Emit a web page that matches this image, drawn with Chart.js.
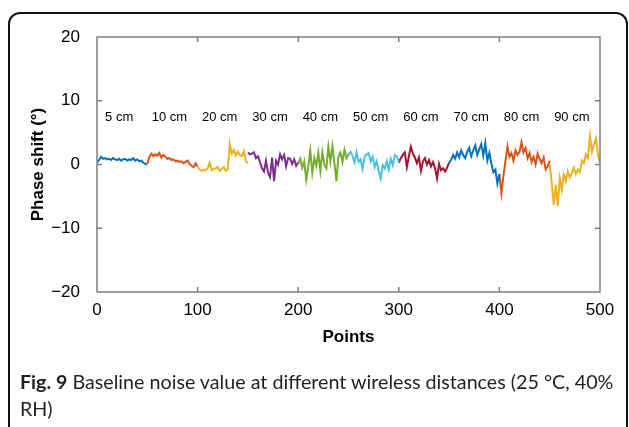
<!DOCTYPE html>
<html>
<head>
<meta charset="utf-8">
<script src="https://cdn.jsdelivr.net/npm/chart.js@4.4.1/dist/chart.umd.min.js"></script>
<style>
    body { margin: 0; background: #fff; width: 629px; height: 427px; overflow: hidden; position: relative; }
    #moldura { position: absolute; left: 8px; top: 12px; width: 616px; height: 480px; border: 2px solid #111; border-radius: 12px; }
    #grafico { position: absolute; left: 0; top: 0; }
    #legenda { position: absolute; left: 20px; top: 368px; width: 610px; font-family: Lato, sans-serif; font-size: 19.7px; line-height: 27px; color: #231f20; white-space: nowrap; }
    #legenda b { font-weight: bold; }
</style>
</head>
<body>
<div id="moldura"></div>
<canvas id="grafico" width="629" height="427"></canvas>
<div id="legenda"><b>Fig. 9</b> Baseline noise value at different wireless distances (25 °C, 40%<br>RH)</div>
<script>
// Distancias e cores de cada trecho (50 pontos cada)
var distancias = ['5 cm', '10 cm', '20 cm', '30 cm', '40 cm', '50 cm', '60 cm', '70 cm', '80 cm', '90 cm'];
var cores = ['#0072BD', '#D95319', '#EDB120', '#7E2F8E', '#77AC30', '#4DBEEE', '#A2142F', '#0072BD', '#D95319', '#EDB120'];

// Desvio de fase (graus), um valor a cada 2 pontos
var fase5 = [0.3, 0.7, 1.2, 0.9, 1.0, 0.8, 0.9, 0.7, 1.0, 0.8, 0.7, 0.9, 0.6, 0.8, 0.9, 0.6, 0.8, 0.7, 1.0, 0.6, 0.8, 0.5, 0.6, 0.3, 0.1, 0.0];
var fase10 = [0.1, 1.2, 1.7, 1.3, 1.6, 1.4, 1.8, 1.1, 1.5, 1.2, 0.9, 1.0, 0.7, 0.8, 0.5, 0.6, 0.4, 0.5, 0.2, 0.4, 0.6, 0.1, -0.2, -0.4, 0.2, -0.3];
var fase20 = [-0.3, -0.8, -1.0, -0.8, -0.9, -0.6, 0.3, -0.9, -0.7, -0.6, -0.4, -1.0, -0.7, -0.4, -1.0, -0.8, 3.2, 1.7, 2.3, 1.4, 2.0, 1.5, 1.3, 2.1, 0.5, 0.2];
var fase30 = [1.9, 1.6, 1.7, 1.9, 1.0, 1.3, 0.4, -0.6, -1.1, 0.6, -1.3, -2.0, 1.1, -2.6, 0.6, 0.0, 1.6, 0.8, 1.5, -0.3, 1.0, 0.9, 0.1, 0.8, -0.2, 0.3];
var fase40 = [0.2, 0.9, -0.5, 0.5, -2.4, -0.3, 2.2, -1.3, 1.0, -0.2, 1.8, -1.0, 1.9, 0.0, -0.6, 2.8, 0.5, 2.9, 0.2, -2.6, 1.3, 1.9, 0.4, 2.3, 1.0, 1.6];
var fase50 = [1.5, 2.0, 1.3, 0.3, 1.9, 0.4, 0.8, -0.7, 1.2, 1.6, 1.8, 0.5, 1.2, -0.4, 0.5, -1.0, -2.2, -0.1, -0.6, 0.5, -0.8, 0.9, -0.1, 1.5, 1.2, 0.4];
var fase60 = [0.3, 1.0, 1.5, 1.9, -0.4, 1.3, 2.8, 1.7, 1.1, 0.2, 1.1, -1.0, 0.5, 1.0, 0.0, 0.7, -0.3, 0.4, -0.6, -2.2, 0.1, -0.9, -0.6, -1.1, -0.5, 0.3];
var fase70 = [0.3, 0.7, 1.5, 0.9, 1.9, 1.1, 2.2, 1.5, 1.0, 2.0, 2.6, 1.3, 2.2, 3.0, 1.5, 2.4, 3.2, 1.4, 3.3, 0.6, 1.8, 0.2, -1.2, -0.8, -3.0, -1.5];
var fase80 = [-1.5, -4.5, -1.8, 0.5, 2.8, 1.2, 1.8, 0.6, 2.2, 1.5, 2.0, 3.5, 1.9, 2.6, 1.0, 1.8, 0.4, 1.2, 0.0, 1.7, 0.9, 0.2, 1.1, -0.8, -0.3, 0.6];
var fase90 = [0.0, -2.8, -6.3, -3.2, -6.5, -2.2, -4.0, -1.6, -2.6, -1.1, -2.0, -1.4, -0.5, -1.5, -0.8, -1.2, 0.6, 0.2, 1.6, 1.0, 4.4, 2.0, 3.1, 4.1, 1.6, 0.2];

var series = [fase5, fase10, fase20, fase30, fase40, fase50, fase60, fase70, fase80, fase90];

// Marcas dos eixos
var ticksX = [0, 100, 200, 300, 400, 500];
var ticksY = [-20, -10, 0, 10, 20];

var pontosPorTrecho = 50;
var passo = 2;

// Monta um dataset por distancia
var datasets = [];
for (let i = 0; i < series.length; i++) {
    let dados = [];
    for (let k = 0; k < series[i].length; k++) {
        dados.push({ x: i * pontosPorTrecho + k * passo, y: series[i][k] });
    }
    datasets.push({
        label: distancias[i],
        data: dados,
        borderColor: cores[i],
        borderWidth: 2,
        pointRadius: 0,
        tension: 0
    });
}

// Caixa do grafico, marcas internas e nomes das distancias
var caixa = {
    id: 'caixa',
    afterDatasetsDraw: function(chart) {
        var ctx = chart.ctx;
        var a = chart.chartArea;
        var sx = chart.scales.x;
        var sy = chart.scales.y;

        ctx.save();
        ctx.strokeStyle = '#7f7f7f';
        ctx.lineWidth = 1.5;
        ctx.strokeRect(a.left, a.top, a.right - a.left, a.bottom - a.top);

        ctx.beginPath();
        for (let i = 1; i < ticksX.length - 1; i++) {
            let px = sx.getPixelForValue(ticksX[i]);
            ctx.moveTo(px, a.top); ctx.lineTo(px, a.top + 5);
            ctx.moveTo(px, a.bottom); ctx.lineTo(px, a.bottom - 5);
        }
        for (let i = 1; i < ticksY.length - 1; i++) {
            let py = sy.getPixelForValue(ticksY[i]);
            ctx.moveTo(a.left, py); ctx.lineTo(a.left + 5, py);
            ctx.moveTo(a.right, py); ctx.lineTo(a.right - 5, py);
        }
        ctx.stroke();

        ctx.fillStyle = '#000';
        ctx.font = '13px "Liberation Sans", Arial, sans-serif';
        ctx.textAlign = 'center';
        ctx.textBaseline = 'middle';
        for (let i = 0; i < distancias.length; i++) {
            let meio = i * pontosPorTrecho + pontosPorTrecho / 2 - 3;
            ctx.fillText(distancias[i], sx.getPixelForValue(meio), sy.getPixelForValue(7.4));
        }
        ctx.restore();
    }
};

var fonteEixo = { family: '"Liberation Sans", Arial, sans-serif', size: 17 };

new Chart('grafico', {
    type: 'line',
    data: { datasets: datasets },
    plugins: [caixa],
    options: {
        responsive: false,
        animation: false,
        layout: { padding: { left: 0, top: 37, right: 29, bottom: 77 } },
        plugins: {
            legend: { display: false },
            tooltip: { enabled: false }
        },
        scales: {
            x: {
                type: 'linear',
                min: 0,
                max: 500,
                afterFit: function(scale) { scale.height = 58; },
                afterBuildTicks: function(scale) { scale.ticks = ticksX.map(v => ({ value: v })); },
                grid: { display: false },
                border: { display: false },
                ticks: { color: '#000', font: fonteEixo, padding: 0, maxRotation: 0 },
                title: {
                    display: true,
                    text: 'Points',
                    color: '#000',
                    font: { family: fonteEixo.family, size: 17, weight: 'bold' },
                    padding: { top: 0, bottom: 2 }
                }
            },
            y: {
                min: -20,
                max: 20,
                afterFit: function(scale) { scale.width = 97; },
                afterBuildTicks: function(scale) { scale.ticks = ticksY.map(v => ({ value: v })); },
                grid: { display: false },
                border: { display: false },
                ticks: {
                    color: '#000',
                    font: fonteEixo,
                    padding: 9,
                    callback: function(v) { return String(v).replace('-', '\u2212'); }
                },
                title: {
                    display: true,
                    text: 'Phase shift (°)',
                    color: '#000',
                    font: { family: fonteEixo.family, size: 17, weight: 'bold' },
                    padding: { top: 28, bottom: 0 }
                }
            }
        }
    }
});
</script>
</body>
</html>
